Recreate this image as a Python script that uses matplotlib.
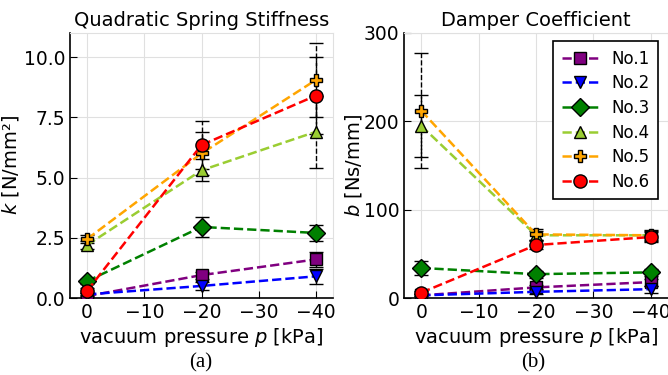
import matplotlib
matplotlib.use("Agg")
import matplotlib.pyplot as plt
import numpy as np

pressure = [0, -20, -40]
labels = ["No.1", "No.2", "No.3", "No.4", "No.5", "No.6"]
colors = ["purple", "blue", "green", "yellowgreen", "orange", "red"]
markers = ["s", "v", "D", "^", "P", "o"]

k_vals = [
    [0.08, 0.95, 1.6],
    [0.15, 0.5, 0.9],
    [0.7, 2.95, 2.7],
    [2.2, 5.3, 6.9],
    [2.45, 6.0, 9.05],
    [0.3, 6.35, 8.4],
]
k_err = [
    [0.05, 0.15, 0.3],
    [0.05, 0.15, 0.3],
    [0.1, 0.4, 0.35],
    [0.15, 0.45, 1.5],
    [0.15, 0.9, 1.55],
    [0.1, 1.0, 1.6],
]
b_vals = [
    [3, 12, 18],
    [3, 7, 10],
    [34, 27, 29],
    [195, 71, 71],
    [212, 72, 71],
    [6, 60, 69],
]
b_err = [
    [1, 3, 4],
    [1, 3, 4],
    [8, 4, 4],
    [35, 5, 6],
    [65, 6, 5],
    [2, 4, 6],
]

fig = plt.figure(figsize=(6.68, 3.75), dpi=100)
ax1 = fig.add_axes([70/668, 77/375, 263/668, 265/375])
ax2 = fig.add_axes([404/668, 77/375, 264/668, 265/375])

def draw(ax, vals, errs):
    for v, e, c, m, l in zip(vals, errs, colors, markers, labels):
        ax.plot(pressure, v, linestyle="--", color=c, linewidth=1.8,
                marker=m, markersize=9 if m != "o" else 9.5,
                markerfacecolor=c, markeredgecolor="black", markeredgewidth=1,
                label=l, zorder=3)
        eb = ax.errorbar(pressure, v, yerr=e, fmt="none", ecolor="black",
                         elinewidth=1, capsize=5, capthick=1, zorder=2.5)
        eb[2][0].set_linestyle("--")
    ax.set_xlim(3, -43)
    ax.set_xticks([0, -10, -20, -30, -40])
    ax.grid(True, color="#e0e0e0", linewidth=0.8)
    ax.set_axisbelow(True)
    ax.tick_params(direction="in", labelsize=13.5, length=5)
    for s in ["top", "right"]:
        ax.spines[s].set_color("#e0e0e0")
    for s in ["left", "bottom"]:
        ax.spines[s].set_linewidth(1.2)
    ax.set_xlabel("vacuum pressure $p$ [kPa]", fontsize=14, labelpad=3)

draw(ax1, k_vals, k_err)
ax1.set_ylim(0, 11)
ax1.set_yticks([0, 2.5, 5.0, 7.5, 10.0])
ax1.set_yticklabels(["0.0", "2.5", "5.0", "7.5", "10.0"])
ax1.set_ylabel("$k$ [N/mm²]", fontsize=14, labelpad=2)
ax1.set_title("Quadratic Spring Stiffness", fontsize=14, pad=5)

draw(ax2, b_vals, b_err)
ax2.set_ylim(0, 300)
ax2.set_yticks([0, 100, 200, 300])
ax2.set_ylabel("$b$ [Ns/mm]", fontsize=14, labelpad=0)
ax2.set_title("Damper Coefficient", fontsize=14, pad=5)
leg = ax2.legend(loc="upper right", fontsize=12, frameon=True, fancybox=False,
                 edgecolor="black", framealpha=1, handlelength=2.2,
                 bbox_to_anchor=(0.995, 1.0), borderpad=0.5, labelspacing=0.4)
leg.get_frame().set_linewidth(1.2)

fig.text(201/668, 1 - 363/375, "(a)", ha="center", va="center",
         fontsize=15, family="Liberation Serif")
fig.text(533/668, 1 - 363/375, "(b)", ha="center", va="center",
         fontsize=15, family="Liberation Serif")

fig.savefig("out.png", dpi=100)
